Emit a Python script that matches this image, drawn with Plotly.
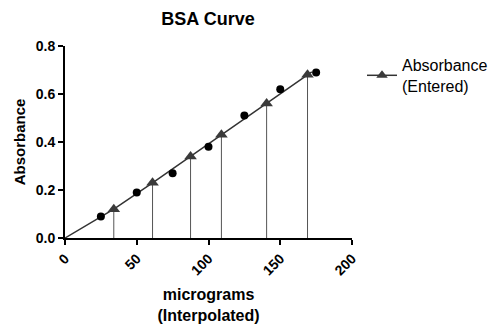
import plotly.graph_objects as go

# Standards (circles)
std_x = [25, 50, 75, 100, 125, 150, 175]
std_y = [0.09, 0.19, 0.27, 0.38, 0.51, 0.62, 0.69]

# Interpolated unknowns (triangles)
unk_x = [34, 61, 87.5, 109, 140.5, 169]
unk_y = [0.12, 0.23, 0.34, 0.43, 0.56, 0.68]

# Fitted curve
curve_x = [0, 34, 61, 87.5, 109, 140.5, 169, 172]
curve_y = [0.0, 0.12, 0.23, 0.34, 0.43, 0.56, 0.68, 0.692]

x_ticks = [0, 50, 100, 150, 200]
y_ticks = [0.0, 0.2, 0.4, 0.6, 0.8]

FONT = "Liberation Sans, Arial, sans-serif"

fig = go.Figure()

# drop lines
drop_x, drop_y = [], []
for xv, yv in zip(unk_x, unk_y):
    drop_x += [xv, xv, None]
    drop_y += [0, yv, None]
fig.add_trace(go.Scatter(x=drop_x, y=drop_y, mode="lines",
                         line=dict(color="#555555", width=1), showlegend=False, hoverinfo="skip"))

fig.add_trace(go.Scatter(x=curve_x, y=curve_y, mode="lines",
                         line=dict(color="#333333", width=1.5), showlegend=False))

fig.add_trace(go.Scatter(x=std_x, y=std_y, mode="markers",
                         marker=dict(symbol="circle", size=8, color="black"), showlegend=False))

fig.add_trace(go.Scatter(x=unk_x, y=unk_y, mode="markers",
                         marker=dict(symbol="triangle-up", size=11, color="#3a3a3a"), showlegend=False))

# legend entry
fig.add_trace(go.Scatter(x=[None], y=[None], mode="lines+markers",
                         name="Absorbance<br>(Entered)",
                         line=dict(color="#333333", width=1.5),
                         marker=dict(symbol="triangle-up", size=10, color="#3a3a3a")))

fig.update_layout(
    width=494, height=324,
    margin=dict(l=65, r=142, t=46, b=86),
    paper_bgcolor="white", plot_bgcolor="white",
    font=dict(family=FONT, color="black"),
    title=dict(text="<b>BSA Curve</b>", x=208 / 494, xanchor="center",
               y=1 - 19 / 324, yanchor="middle", font=dict(size=18, color="black")),
    legend=dict(xref="container", yref="container", x=362 / 494, y=1 - 48 / 324,
                xanchor="left", yanchor="top",
                font=dict(size=16, color="black"), bgcolor="rgba(0,0,0,0)"),
    xaxis=dict(range=[0, 200], tickvals=x_ticks, ticktext=[f"<b>{v}</b>" for v in x_ticks],
               tickangle=-45, showgrid=False, zeroline=False, showline=True, automargin=False,
               linecolor="black", linewidth=2, ticks="outside", ticklen=5, tickwidth=2,
               tickcolor="black", tickfont=dict(size=14, color="black"),
               title=dict(text="<b>micrograms<br>(Interpolated)</b>", font=dict(size=16, color="black"),
                          standoff=20)),
    yaxis=dict(range=[0, 0.8], tickvals=y_ticks, ticktext=[f"<b>{v:.1f}</b>" for v in y_ticks],
               showgrid=False, zeroline=False, showline=True, automargin=False,
               linecolor="black", linewidth=2, ticks="outside", ticklen=5, tickwidth=2,
               tickcolor="black", tickfont=dict(size=14, color="black"),
               title=dict(text="<b>Absorbance</b>", font=dict(size=15, color="black"), standoff=6)),
)

fig.write_html("out.html")
